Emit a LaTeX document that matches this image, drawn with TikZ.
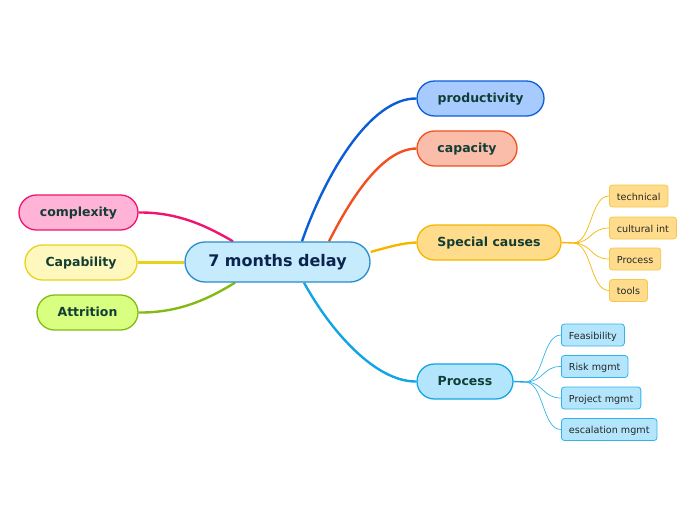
\documentclass[tikz,border=0pt]{standalone}
\usepackage{fontspec}
\setmainfont{DejaVu Sans}
\usetikzlibrary{backgrounds}
\definecolor{txtg}{HTML}{123D35}
\definecolor{txtc}{HTML}{0B2350}
\definecolor{cfill}{HTML}{C6EBFC}\definecolor{cdraw}{HTML}{2A8CCB}
\definecolor{pfill}{HTML}{A8CBFF}\definecolor{pdraw}{HTML}{0B5ED8}
\definecolor{kfill}{HTML}{FABDA9}\definecolor{kdraw}{HTML}{F2501F}
\definecolor{sfill}{HTML}{FFDC8C}\definecolor{sdraw}{HTML}{F6B600}
\definecolor{ssdraw}{HTML}{F8C64C}
\definecolor{rfill}{HTML}{B3E6FC}\definecolor{rdraw}{HTML}{12A4E6}
\definecolor{rrdraw}{HTML}{33B3EC}
\definecolor{xfill}{HTML}{FFB3D6}\definecolor{xdraw}{HTML}{F0146E}
\definecolor{yfill}{HTML}{FFF8BE}\definecolor{ydraw}{HTML}{E8D21E}
\definecolor{afill}{HTML}{D9FF80}\definecolor{adraw}{HTML}{84BA14}
\tikzset{
  branch/.style={draw, line width=1.3pt, rounded corners=17.5pt, minimum height=35pt,
    inner sep=0pt, text height=0.84em, text depth=0pt,
    font=\fontsize{12.5}{14}\selectfont\bfseries, text=txtg},
  leaf/.style={draw, line width=0.8pt, rounded corners=3pt, minimum height=22pt,
    inner xsep=7.5pt, inner ysep=0pt, text height=0.82em, text depth=0pt, anchor=west,
    font=\fontsize{9.6}{11}\selectfont, text=black!85},
  mainedge/.style={line width=2.4pt},
  leafedge/.style={line width=0.7pt}
}
\begin{document}
\begin{tikzpicture}[x=1pt,y=-1pt]
\useasboundingbox (0,0) rectangle (696,520);
\node[draw=cdraw, fill=cfill, line width=1.3pt, rounded corners=20pt, minimum width=185pt,
  minimum height=40pt, inner sep=0pt, text height=0.8em, text depth=0pt,
  font=\fontsize{16}{18}\selectfont\bfseries, text=txtc]
  (c) at (277.5,262) {7 months delay};
\node[branch, draw=pdraw, fill=pfill, minimum width=127pt] (p) at (480.5,98.5) {productivity};
\node[branch, draw=kdraw, fill=kfill, minimum width=100pt] (k) at (467,148.5) {capacity};
\node[branch, draw=sdraw, fill=sfill, minimum width=144pt] (s) at (489,242.5) {Special causes};
\node[branch, draw=rdraw, fill=rfill, minimum width=96pt] (r) at (465,381.5) {Process};
\node[branch, draw=xdraw, fill=xfill, minimum width=119pt] (x) at (78.5,212.5) {complexity};
\node[branch, draw=ydraw, fill=yfill, minimum width=112pt] (y) at (81,262.5) {Capability};
\node[branch, draw=adraw, fill=afill, minimum width=101pt] (a) at (87.5,312.5) {Attrition};
% leaves
\node[leaf, draw=ssdraw, fill=sfill] (s1) at (609,196) {technical};
\node[leaf, draw=ssdraw, fill=sfill] (s2) at (609,228) {cultural int};
\node[leaf, draw=ssdraw, fill=sfill] (s3) at (609,259) {Process};
\node[leaf, draw=ssdraw, fill=sfill] (s4) at (609,290.5) {tools};
\node[leaf, draw=rrdraw, fill=rfill] (r1) at (561,335) {Feasibility};
\node[leaf, draw=rrdraw, fill=rfill] (r2) at (561,366.5) {Risk mgmt};
\node[leaf, draw=rrdraw, fill=rfill] (r3) at (561,398) {Project mgmt};
\node[leaf, draw=rrdraw, fill=rfill] (r4) at (561,429.5) {escalation mgmt};
\coordinate (sf) at (573,243);
\coordinate (rf) at (525,382);
\begin{scope}[on background layer]
\draw[mainedge, pdraw] ([xshift=24.5pt]c.north) .. controls (325,175) and (370,98) .. (p.west);
\draw[mainedge, kdraw] ([xshift=51.5pt]c.north) .. controls (355,190) and (385,149) .. (k.west);
\draw[mainedge, sdraw] ([yshift=10pt]c.east) .. controls (395,245) and (405,243) .. (s.west);
\draw[mainedge, rdraw] ([xshift=26.5pt]c.south) .. controls (330,330) and (375,382) .. (r.west);
\draw[mainedge, xdraw] (x.east) .. controls (180,212) and (210,228) .. ([xshift=-44.5pt]c.north);
\draw[mainedge, ydraw] (y.east) -- (c.west |- y.east);
\draw[mainedge, adraw] (a.east) .. controls (180,313) and (210,298) .. ([xshift=-42.5pt]c.south);
\draw[leafedge, sdraw, line width=1.4pt] (s.east) -- (sf);
\draw[leafedge, sdraw] (sf) .. controls (592,243) and (590,196) .. (s1.west);
\draw[leafedge, sdraw] (sf) .. controls (592,243) and (590,228) .. (s2.west);
\draw[leafedge, sdraw] (sf) .. controls (592,243) and (590,259) .. (s3.west);
\draw[leafedge, sdraw] (sf) .. controls (592,243) and (590,290.5) .. (s4.west);
\draw[leafedge, rdraw, line width=1.4pt] (r.east) -- (rf);
\draw[leafedge, rrdraw] (rf) .. controls (544,382) and (542,335) .. (r1.west);
\draw[leafedge, rrdraw] (rf) .. controls (544,382) and (542,366.5) .. (r2.west);
\draw[leafedge, rrdraw] (rf) .. controls (544,382) and (542,398) .. (r3.west);
\draw[leafedge, rrdraw] (rf) .. controls (544,382) and (542,429.5) .. (r4.west);
\end{scope}
\end{tikzpicture}
\end{document}
